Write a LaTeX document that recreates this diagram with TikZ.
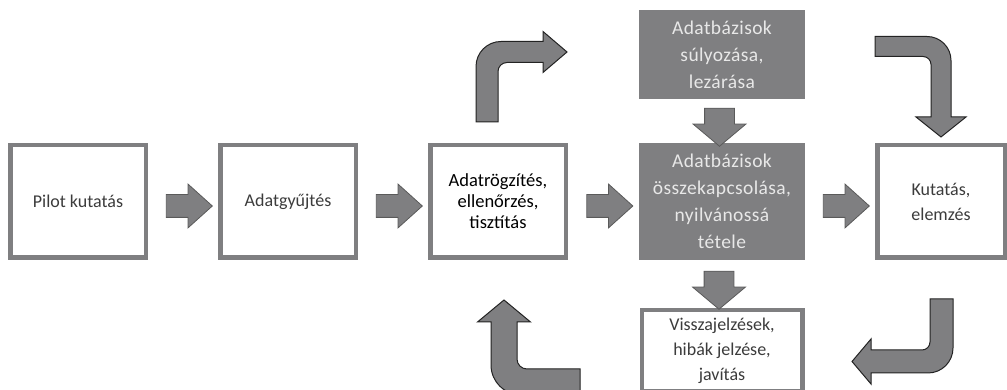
\documentclass[tikz,border=0pt]{standalone}
\usepackage{fontspec}
\setmainfont{Carlito}
\usetikzlibrary{positioning,calc,shapes.arrows}
\definecolor{boxgray}{RGB}{127,127,129}
\definecolor{textgray}{RGB}{60,60,60}
\definecolor{lighttext}{RGB}{232,232,232}
\definecolor{arrowedge}{RGB}{35,35,35}

\begin{document}
\begin{tikzpicture}[x=1pt,y=1pt,
            stepbox/.style={
                rectangle, draw=boxgray, line width=4.5pt, fill=white,
                minimum width=135.5pt, minimum height=112.5pt,
                inner sep=0pt, align=center, text=textgray,
                font=\fontsize{18}{25}\selectfont
            },
            darkbox/.style={
                rectangle, fill=boxgray,
                minimum width=166pt, minimum height=117pt,
                inner sep=0pt, outer sep=0pt, align=center, text=lighttext,
                font=\fontsize{19.5}{27}\selectfont\addfontfeature{LetterSpace=2}
            },
            rightarrow/.style={
                single arrow, fill=boxgray, draw=arrowedge!75, line width=0.8pt,
                inner xsep=0pt, inner ysep=11pt, minimum height=46pt, minimum width=43pt,
                single arrow head extend=10.5pt, single arrow tip angle=84
            },
            downarrow/.style={
                rightarrow, rotate=-90, inner ysep=14.5pt,
                minimum height=38pt, minimum width=52pt,
                single arrow head extend=11.5pt, single arrow tip angle=100
            },
            bendarrow/.style={fill=boxgray, draw=arrowedge, line width=1pt},
        ]

            \useasboundingbox (0,0) rectangle (1007,390);

            % boxes of the process
            \node [stepbox] (pilot) at (78,188.5)             {Pilot kutatás};
            \node [stepbox] (gyujtes) [ right= 70pt of pilot ] {Adatgyűjtés};
            \node [stepbox, text=black, font=\fontsize{18.5}{21}\selectfont]
                  (rogzites) [ right= 70pt of gyujtes ] {Adatrögzítés,\\ ellenőrzés,\\ tisztítás};
            \node [darkbox] (osszekapcs) [ right= 71pt of rogzites ]
                  {Adatbázisok\\ összekapcsolása,\\ nyilvánossá\\ tétele};
            \node [darkbox, minimum height=89pt] (sulyozas) [ above= 44pt of osszekapcs ]
                  {Adatbázisok\\ súlyozása,\\ lezárása};
            \node [stepbox, minimum width=127.5pt] (kutatas) [ right= 70pt of osszekapcs ] {Kutatás,\\ elemzés};
            \node [stepbox, minimum width=160.5pt, minimum height=81.5pt]
                  (visszajelzes) [ below= 48pt of osszekapcs ] {Visszajelzések,\\ hibák jelzése,\\ javítás};

            % straight arrows
            \node [rightarrow, yshift=-4.5pt] (a1) at ($(pilot.east)!0.5!(gyujtes.west)$) {};
            \node [rightarrow, yshift=-4.5pt] (a2) at ($(gyujtes.east)!0.5!(rogzites.west)$) {};
            \node [rightarrow, yshift=-4.5pt] (a3) at ($(rogzites.east)!0.5!(osszekapcs.west)$) {};
            \node [rightarrow, yshift=-4.5pt] (a4) at ($(osszekapcs.east)!0.5!(kutatas.west)$) {};
            \node [downarrow, yshift=-2.5pt] (a5) at ($(sulyozas.south)!0.5!(osszekapcs.north)$) {};
            \node [downarrow, yshift=-3pt] (a6) at ($(osszekapcs.south)!0.5!(visszajelzes.north)$) {};

            % bent arrows
            \draw [bendarrow] ([xshift=-22pt, yshift=21pt]rogzites.north) coordinate (bendup)
                -- ++(0,55.5) arc [start angle=180, end angle=90, radius=25]
                -- ++(42,0) -- ++(0,10) -- ++(24,-20.5) -- ++(-24,-20.5) -- ++(0,10)
                -- ++(-36,0) arc [start angle=90, end angle=180, radius=9]
                -- ++(0,-50.5) -- cycle;

            \draw [bendarrow] ([yshift=6pt]kutatas.north) coordinate (benddown)
                -- ++(25,20) -- ++(-15,0) -- ++(0,56.5) arc [start angle=0, end angle=90, radius=24]
                -- ++(-52,0) -- ++(0,-20) -- ++(48,0) arc [start angle=90, end angle=0, radius=8]
                -- ++(0,-52.5) -- ++(-15,0) -- cycle;

            \draw [bendarrow] ([xshift=-11pt, yshift=-39pt]kutatas.south) coordinate (bendleft)
                -- ++(0,-43) arc [start angle=0, end angle=-90, radius=8]
                -- ++(-51,0) -- ++(0,11) -- ++(-19,-22.5) -- ++(19,-22.5) -- ++(0,11)
                -- ++(57,0) arc [start angle=-90, end angle=0, radius=25]
                -- ++(0,49) -- cycle;

            \draw [bendarrow] ([xshift=6pt, yshift=-40pt]rogzites.south) coordinate (bendback)
                -- ++(26.5,-22) -- ++(-13.5,0) -- ++(0,-37) arc [start angle=180, end angle=270, radius=10]
                -- ++(53,0) -- ++(0,-26) -- ++(-59,0) arc [start angle=270, end angle=180, radius=30]
                -- ++(0,43) -- ++(-13.5,0) -- cycle;

        \end{tikzpicture}
\end{document}
